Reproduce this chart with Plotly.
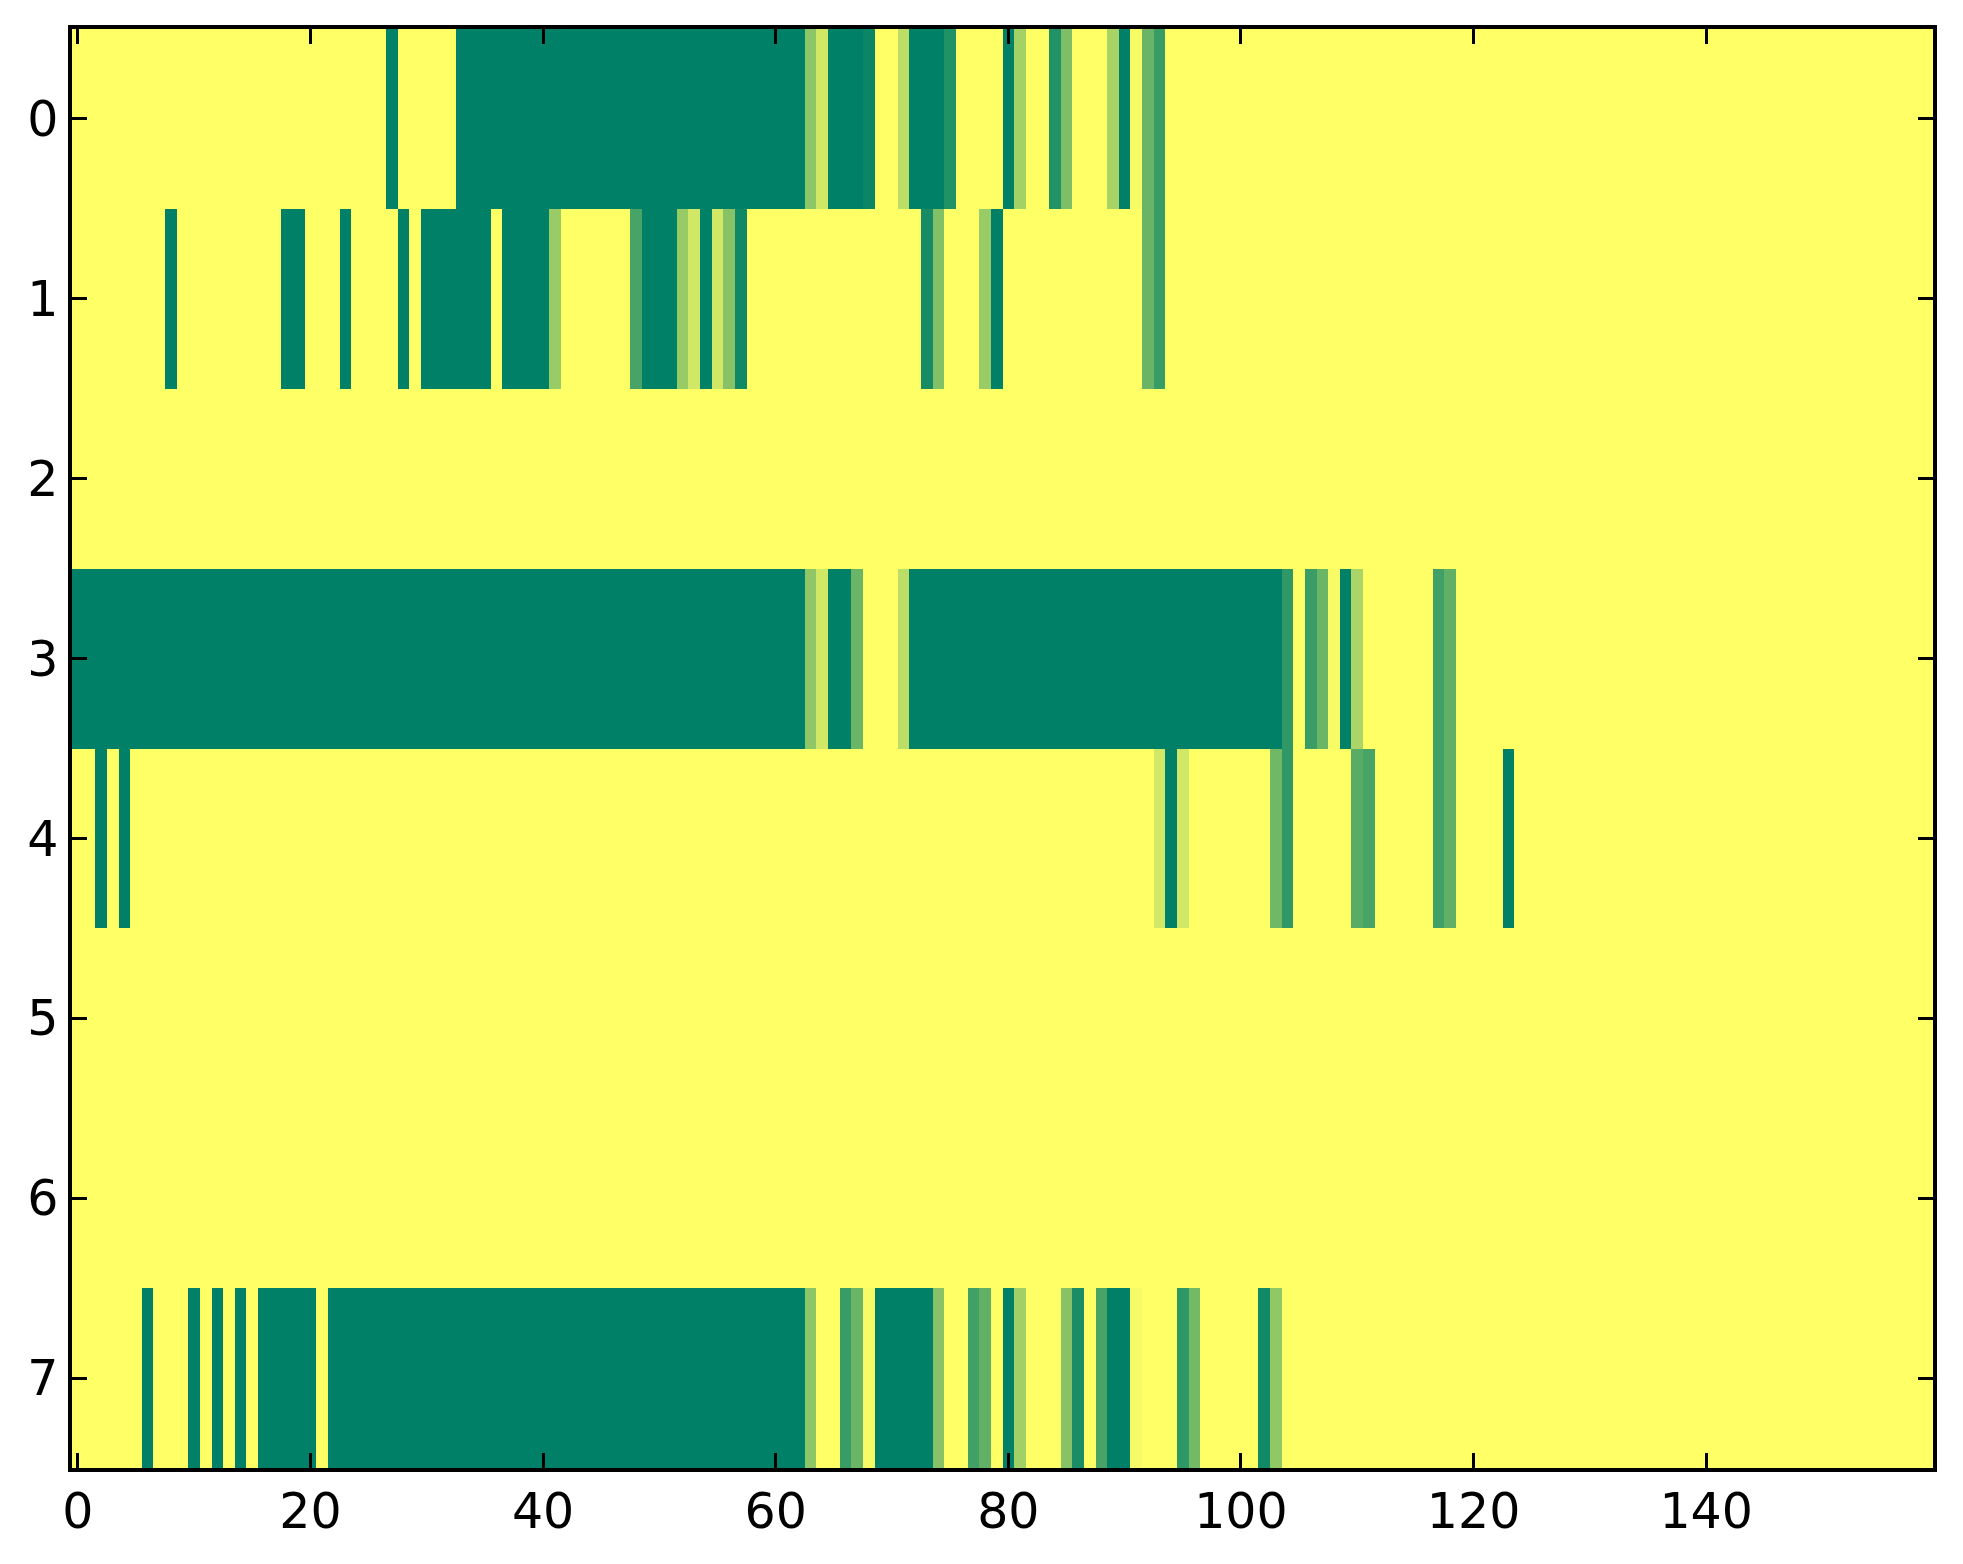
import plotly.graph_objects as go

# Column indices and row labels
columns = list(range(160))
rows = list(range(8))

# Cell values per row (0 = dark green, 1 = yellow)
row0 = [
    1, 1, 1, 1, 1, 1, 1, 1, 1, 1,
    1, 1, 1, 1, 1, 1, 1, 1, 1, 1,
    1, 1, 1, 1, 1, 1, 1, 0, 1, 1,
    1, 1, 1, 0, 0, 0, 0, 0, 0, 0,
    0, 0, 0, 0, 0, 0, 0, 0, 0, 0,
    0, 0, 0, 0, 0, 0, 0, 0, 0, 0,
    0, 0, 0, 0.55, 0.82, 0, 0, 0, 0.04, 1,
    1, 0.74, 0, 0, 0, 0.13, 1, 1, 1, 1,
    0, 0.64, 1, 1, 0.13, 0.49, 1, 1, 1, 0.66,
    0, 0.97, 0.41, 0.22, 1, 1, 1, 1, 1, 1,
    1, 1, 1, 1, 1, 1, 1, 1, 1, 1,
    1, 1, 1, 1, 1, 1, 1, 1, 1, 1,
    1, 1, 1, 1, 1, 1, 1, 1, 1, 1,
    1, 1, 1, 1, 1, 1, 1, 1, 1, 1,
    1, 1, 1, 1, 1, 1, 1, 1, 1, 1,
    1, 1, 1, 1, 1, 1, 1, 1, 1, 1,
]
row1 = [
    1, 1, 1, 1, 1, 1, 1, 1, 0, 1,
    1, 1, 1, 1, 1, 1, 1, 1, 0, 0,
    1, 1, 1, 0, 1, 1, 1, 1, 0, 1,
    0, 0, 0, 0, 0, 0, 1, 0, 0, 0,
    0, 0.60, 1, 1, 1, 1, 1, 1, 0.28, 0,
    0, 0, 0.59, 0.82, 0, 0.82, 0.53, 0.06, 1, 1,
    1, 1, 1, 1, 1, 1, 1, 1, 1, 1,
    1, 1, 1, 0.09, 0.50, 1, 1, 1, 0.60, 0,
    1, 1, 1, 1, 1, 1, 1, 1, 1, 1,
    1, 1, 0.41, 0.22, 1, 1, 1, 1, 1, 1,
    1, 1, 1, 1, 1, 1, 1, 1, 1, 1,
    1, 1, 1, 1, 1, 1, 1, 1, 1, 1,
    1, 1, 1, 1, 1, 1, 1, 1, 1, 1,
    1, 1, 1, 1, 1, 1, 1, 1, 1, 1,
    1, 1, 1, 1, 1, 1, 1, 1, 1, 1,
    1, 1, 1, 1, 1, 1, 1, 1, 1, 1,
]
row2 = [
    1, 1, 1, 1, 1, 1, 1, 1, 1, 1,
    1, 1, 1, 1, 1, 1, 1, 1, 1, 1,
    1, 1, 1, 1, 1, 1, 1, 1, 1, 1,
    1, 1, 1, 1, 1, 1, 1, 1, 1, 1,
    1, 1, 1, 1, 1, 1, 1, 1, 1, 1,
    1, 1, 1, 1, 1, 1, 1, 1, 1, 1,
    1, 1, 1, 1, 1, 1, 1, 1, 1, 1,
    1, 1, 1, 1, 1, 1, 1, 1, 1, 1,
    1, 1, 1, 1, 1, 1, 1, 1, 1, 1,
    1, 1, 1, 1, 1, 1, 1, 1, 1, 1,
    1, 1, 1, 1, 1, 1, 1, 1, 1, 1,
    1, 1, 1, 1, 1, 1, 1, 1, 1, 1,
    1, 1, 1, 1, 1, 1, 1, 1, 1, 1,
    1, 1, 1, 1, 1, 1, 1, 1, 1, 1,
    1, 1, 1, 1, 1, 1, 1, 1, 1, 1,
    1, 1, 1, 1, 1, 1, 1, 1, 1, 1,
]
row3 = [
    0, 0, 0, 0, 0, 0, 0, 0, 0, 0,
    0, 0, 0, 0, 0, 0, 0, 0, 0, 0,
    0, 0, 0, 0, 0, 0, 0, 0, 0, 0,
    0, 0, 0, 0, 0, 0, 0, 0, 0, 0,
    0, 0, 0, 0, 0, 0, 0, 0, 0, 0,
    0, 0, 0, 0, 0, 0, 0, 0, 0, 0,
    0, 0, 0, 0.56, 0.82, 0, 0, 0.42, 1, 1,
    1, 0.74, 0, 0, 0, 0, 0, 0, 0, 0,
    0, 0, 0, 0, 0, 0, 0, 0, 0, 0,
    0, 0, 0, 0, 0, 0, 0, 0, 0, 0,
    0, 0, 0, 0, 0.19, 1, 0.23, 0.42, 0.97, 0,
    0.67, 1, 1, 1, 1, 1, 1, 0.25, 0.38, 1,
    1, 1, 1, 1, 1, 1, 1, 1, 1, 1,
    1, 1, 1, 1, 1, 1, 1, 1, 1, 1,
    1, 1, 1, 1, 1, 1, 1, 1, 1, 1,
    1, 1, 1, 1, 1, 1, 1, 1, 1, 1,
]
row4 = [
    1, 1, 0, 1, 0, 1, 1, 1, 1, 1,
    1, 1, 1, 1, 1, 1, 1, 1, 1, 1,
    1, 1, 1, 1, 1, 1, 1, 1, 1, 1,
    1, 1, 1, 1, 1, 1, 1, 1, 1, 1,
    1, 1, 1, 1, 1, 1, 1, 1, 1, 1,
    1, 1, 1, 1, 1, 1, 1, 1, 1, 1,
    1, 1, 1, 1, 1, 1, 1, 1, 1, 1,
    1, 1, 1, 1, 1, 1, 1, 1, 1, 1,
    1, 1, 1, 1, 1, 1, 1, 1, 1, 1,
    1, 1, 1, 0.82, 0, 0.82, 1, 1, 1, 1,
    1, 1, 1, 0.44, 0.19, 1, 1, 1, 1, 1,
    0.35, 0.28, 1, 1, 1, 1, 1, 0.25, 0.38, 1,
    1, 1, 1, 0, 1, 1, 1, 1, 1, 1,
    1, 1, 1, 1, 1, 1, 1, 1, 1, 1,
    1, 1, 1, 1, 1, 1, 1, 1, 1, 1,
    1, 1, 1, 1, 1, 1, 1, 1, 1, 1,
]
row5 = [
    1, 1, 1, 1, 1, 1, 1, 1, 1, 1,
    1, 1, 1, 1, 1, 1, 1, 1, 1, 1,
    1, 1, 1, 1, 1, 1, 1, 1, 1, 1,
    1, 1, 1, 1, 1, 1, 1, 1, 1, 1,
    1, 1, 1, 1, 1, 1, 1, 1, 1, 1,
    1, 1, 1, 1, 1, 1, 1, 1, 1, 1,
    1, 1, 1, 1, 1, 1, 1, 1, 1, 1,
    1, 1, 1, 1, 1, 1, 1, 1, 1, 1,
    1, 1, 1, 1, 1, 1, 1, 1, 1, 1,
    1, 1, 1, 1, 1, 1, 1, 1, 1, 1,
    1, 1, 1, 1, 1, 1, 1, 1, 1, 1,
    1, 1, 1, 1, 1, 1, 1, 1, 1, 1,
    1, 1, 1, 1, 1, 1, 1, 1, 1, 1,
    1, 1, 1, 1, 1, 1, 1, 1, 1, 1,
    1, 1, 1, 1, 1, 1, 1, 1, 1, 1,
    1, 1, 1, 1, 1, 1, 1, 1, 1, 1,
]
row6 = [
    1, 1, 1, 1, 1, 1, 1, 1, 1, 1,
    1, 1, 1, 1, 1, 1, 1, 1, 1, 1,
    1, 1, 1, 1, 1, 1, 1, 1, 1, 1,
    1, 1, 1, 1, 1, 1, 1, 1, 1, 1,
    1, 1, 1, 1, 1, 1, 1, 1, 1, 1,
    1, 1, 1, 1, 1, 1, 1, 1, 1, 1,
    1, 1, 1, 1, 1, 1, 1, 1, 1, 1,
    1, 1, 1, 1, 1, 1, 1, 1, 1, 1,
    1, 1, 1, 1, 1, 1, 1, 1, 1, 1,
    1, 1, 1, 1, 1, 1, 1, 1, 1, 1,
    1, 1, 1, 1, 1, 1, 1, 1, 1, 1,
    1, 1, 1, 1, 1, 1, 1, 1, 1, 1,
    1, 1, 1, 1, 1, 1, 1, 1, 1, 1,
    1, 1, 1, 1, 1, 1, 1, 1, 1, 1,
    1, 1, 1, 1, 1, 1, 1, 1, 1, 1,
    1, 1, 1, 1, 1, 1, 1, 1, 1, 1,
]
row7 = [
    1, 1, 1, 1, 1, 1, 0, 1, 1, 1,
    0, 1, 0, 1, 0, 1, 0, 0, 0, 0,
    0, 1, 0, 0, 0, 0, 0, 0, 0, 0,
    0, 0, 0, 0, 0, 0, 0, 0, 0, 0,
    0, 0, 0, 0, 0, 0, 0, 0, 0, 0,
    0, 0, 0, 0, 0, 0, 0, 0, 0, 0,
    0, 0, 0, 0.55, 1, 1, 0.22, 0.42, 0.97, 0,
    0, 0, 0, 0, 0.53, 1, 1, 0.25, 0.38, 1,
    0, 0.63, 1, 1, 1, 0.53, 0.10, 1, 0.28, 0,
    0, 0.96, 1, 1, 1, 0.18, 0.45, 1, 1, 1,
    1, 1, 0.07, 0.57, 1, 1, 1, 1, 1, 1,
    1, 1, 1, 1, 1, 1, 1, 1, 1, 1,
    1, 1, 1, 1, 1, 1, 1, 1, 1, 1,
    1, 1, 1, 1, 1, 1, 1, 1, 1, 1,
    1, 1, 1, 1, 1, 1, 1, 1, 1, 1,
    1, 1, 1, 1, 1, 1, 1, 1, 1, 1,
]

x_tick_values = [0, 20, 40, 60, 80, 100, 120, 140]
y_tick_values = [0, 1, 2, 3, 4, 5, 6, 7]

z = [row0, row1, row2, row3, row4, row5, row6, row7]
for r in z:
    assert len(r) == 160

summer = [[0.0, "rgb(0,128,102)"], [1.0, "rgb(255,255,102)"]]

fig = go.Figure(
    go.Heatmap(
        z=z,
        x=columns,
        y=rows,
        colorscale=summer,
        zmin=0,
        zmax=1,
        showscale=False,
        xgap=0,
        ygap=0,
    )
)

axis_common = dict(
    showline=True,
    linecolor="black",
    linewidth=3.5,
    mirror="ticks",
    ticks="inside",
    ticklen=15,
    tickwidth=2.5,
    tickcolor="black",
    showgrid=False,
    zeroline=False,
    tickfont=dict(family="DejaVu Sans", size=49, color="black"),
)

fig.update_xaxes(
    range=[-0.5, 159.5],
    tickmode="array",
    tickvals=x_tick_values,
    ticktext=[str(v) for v in x_tick_values],
    ticklabelstandoff=-3,
    **axis_common,
)
fig.update_yaxes(
    range=[7.5, -0.5],
    tickmode="array",
    tickvals=y_tick_values,
    ticktext=[str(v) for v in y_tick_values],
    ticklabelstandoff=0,
    **axis_common,
)

fig.update_layout(
    width=1955,
    height=1556,
    margin=dict(l=64, r=30, t=21, b=96, autoexpand=False),
    paper_bgcolor="white",
    plot_bgcolor="white",
)

fig.write_html("out.html")
